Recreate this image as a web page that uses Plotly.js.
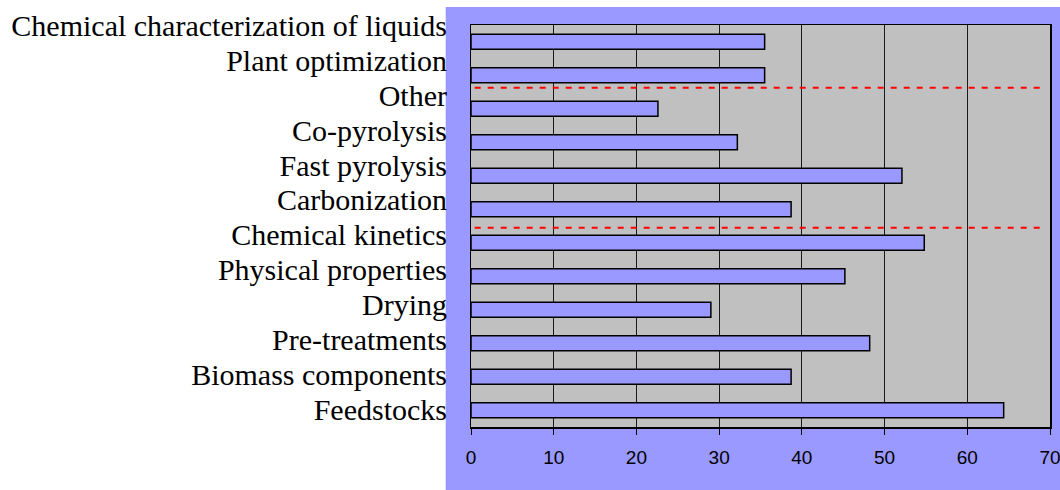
<!DOCTYPE html>
<html>
<head>
<meta charset="utf-8">
<script src="https://cdn.plot.ly/plotly-3.0.1.min.js"></script>
<style>
  html, body { margin: 0; padding: 0; background: #ffffff; }
  #chart { width: 1060px; height: 490px; }
</style>
</head>
<body>
<div id="chart"></div>
<script>
// Research topics, listed bottom to top
const topics = [
  'Feedstocks',
  'Biomass components',
  'Pre-treatments',
  'Drying',
  'Physical properties',
  'Chemical kinetics',
  'Carbonization',
  'Fast pyrolysis',
  'Co-pyrolysis',
  'Other',
  'Plant optimization',
  'Chemical characterization of liquids'
];

// Value for each topic
const counts = [64.4, 38.7, 48.2, 29.0, 45.2, 54.8, 38.7, 52.1, 32.2, 22.6, 35.5, 35.5];

// x axis ticks
const xTicks = [0, 10, 20, 30, 40, 50, 60, 70];

// Dashed separators between topic groups (position on the topic axis)
const separators = [9.63, 5.45];

// Frame geometry in pixels
const W = 1060, H = 490;
const M = { l: 471.3, r: 10, t: 24.7, b: 63 };
const plotW = W - M.l - M.r;
const plotH = H - M.t - M.b;
// coloured panel behind the plot (pixels)
const panel = { x0: 446, x1: 1060, y0: 6.7, y1: 490 };
const px2fx = p => (p - M.l) / plotW;
const py2fy = p => (H - M.b - p) / plotH;

// label axis: first label centre / last label centre in pixels
const labelBottomPx = 409.5, labelTopPx = 25;
const labelStep = (labelBottomPx - labelTopPx) / (topics.length - 1);
const labelRange = [
  -((H - M.b) - labelBottomPx) / labelStep,
  (topics.length - 1) + (labelTopPx - M.t) / labelStep
];

const bars = {
  type: 'bar',
  orientation: 'h',
  x: counts,
  y: topics,
  marker: { color: '#9999FF', line: { color: '#000000', width: 1.5 } },
  hoverinfo: 'x+y'
};

// carrier for the topic labels
const labels = {
  type: 'scatter',
  mode: 'markers',
  x: counts.map(() => 0),
  y: topics,
  yaxis: 'y2',
  marker: { opacity: 0 },
  hoverinfo: 'skip',
  showlegend: false
};

const shapes = [
  {
    type: 'rect', xref: 'paper', yref: 'paper', layer: 'below',
    x0: px2fx(panel.x0), x1: px2fx(panel.x1),
    y0: py2fy(panel.y1), y1: py2fy(panel.y0),
    fillcolor: '#9999FF', line: { width: 0 }
  },
  {
    type: 'rect', xref: 'paper', yref: 'paper', layer: 'below',
    x0: 0, x1: 1, y0: 0, y1: 1,
    fillcolor: '#C0C0C0', line: { width: 0 }
  }
].concat(separators.map(s => ({
  type: 'line', xref: 'paper', yref: 'y', layer: 'above',
  x0: px2fx(475), x1: px2fx(1045), y0: s, y1: s,
  line: { color: '#FF0000', width: 2, dash: '6px,7px' }
})));

const layout = {
  width: W,
  height: H,
  margin: M,
  paper_bgcolor: '#ffffff',
  plot_bgcolor: 'rgba(0,0,0,0)',
  showlegend: false,
  bargap: 0.55,
  xaxis: {
    range: [0, 70],
    tickvals: xTicks,
    ticktext: xTicks.map(String),
    showgrid: true,
    gridcolor: '#1a1a1a',
    gridwidth: 1,
    zeroline: false,
    showline: true,
    linecolor: '#000000',
    linewidth: 1.5,
    mirror: true,
    ticks: 'outside',
    ticklen: 6,
    tickcolor: '#000000',
    tickwidth: 1,
    ticklabelstandoff: 7,
    ticklabeloverflow: 'allow',
    tickfont: { family: '"Liberation Sans Narrow", "Arial Narrow", Arial, sans-serif', size: 19, color: '#000000' },
    fixedrange: true
  },
  yaxis: {
    type: 'category',
    categoryarray: topics,
    range: [-0.5, topics.length - 0.5],
    showticklabels: false,
    showgrid: false,
    zeroline: false,
    showline: true,
    linecolor: '#000000',
    linewidth: 1.5,
    mirror: true,
    ticks: '',
    fixedrange: true
  },
  yaxis2: {
    type: 'category',
    categoryarray: topics,
    overlaying: 'y',
    side: 'left',
    range: labelRange,
    tickmode: 'array',
    tickvals: topics,
    ticktext: topics,
    showgrid: false,
    zeroline: false,
    showline: false,
    ticks: '',
    ticklabelstandoff: 23,
    ticklabeloverflow: 'allow',
    tickfont: { family: '"Liberation Serif", "Times New Roman", Times, serif', size: 30, color: '#000000' },
    fixedrange: true
  },
  shapes: shapes
};

Plotly.newPlot('chart', [bars, labels], layout, { displayModeBar: false, staticPlot: true });
</script>
</body>
</html>
